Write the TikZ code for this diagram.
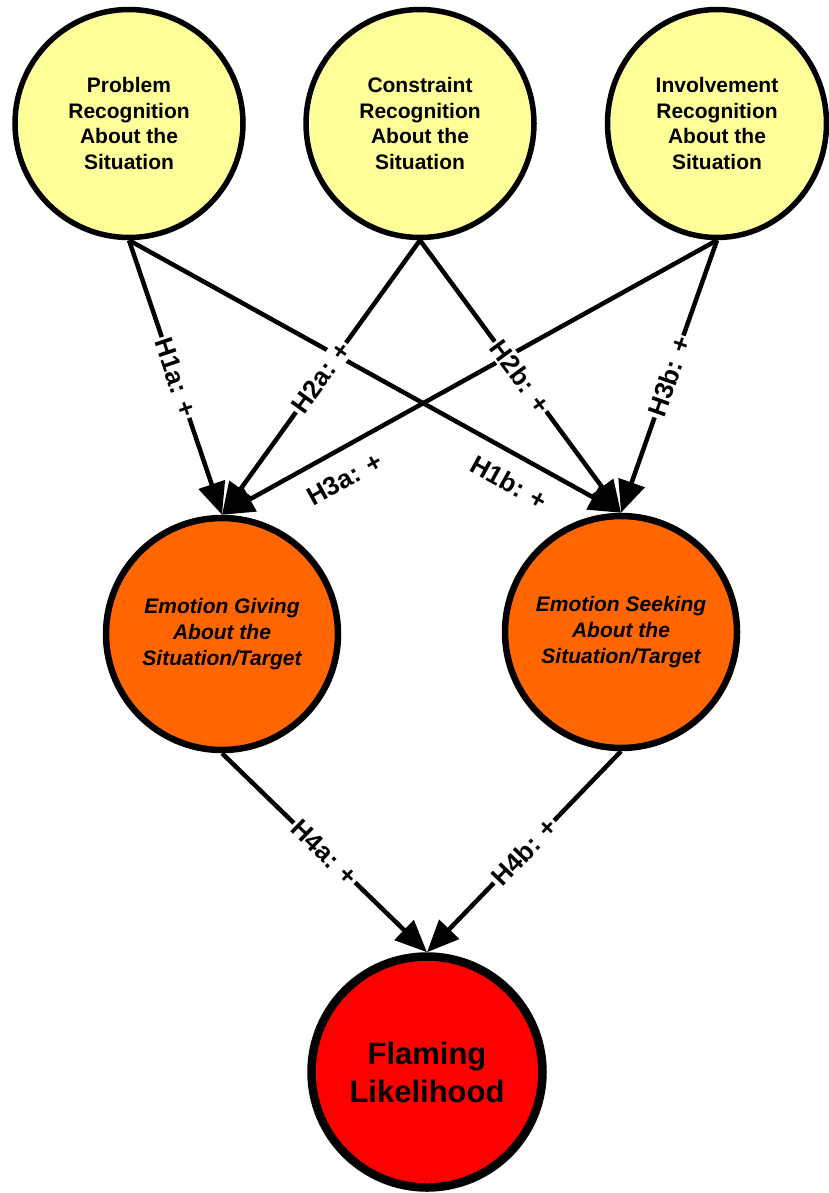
\documentclass[tikz,border=0pt]{standalone}
\usepackage{fontspec}
\setmainfont{Liberation Sans}
\usepackage{xcolor}
\usetikzlibrary{arrows.meta,shapes.geometric}

\definecolor{recogyellow}{HTML}{FFFF99}
\definecolor{emoorange}{HTML}{FF6600}
\definecolor{flamered}{HTML}{FF0000}

\begin{document}
\begin{tikzpicture}[x=1pt,y=-1pt,
    recog/.style={ellipse, draw=black, line width=5.5pt, fill=recogyellow, minimum width=228pt, minimum height=228pt, inner sep=0pt, align=center, font=\bfseries\fontsize{21}{25.7}\selectfont},
    emo/.style={circle, draw=black, line width=6.5pt, fill=emoorange, minimum size=232pt, inner sep=0pt, align=center, font=\bfseries\itshape\fontsize{21}{26}\selectfont},
    flame/.style={circle, draw=black, line width=8.5pt, fill=flamered, minimum size=231pt, inner sep=0pt, align=center, font=\bfseries\fontsize{31}{38}\selectfont},
    arr/.style={line width=4.5pt, -{Triangle[length=32pt,width=27pt]}},
    hyp/.style={sloped, fill=white, inner sep=2pt, font=\bfseries\fontsize{26}{26}\selectfont},
    hypoff/.style={sloped, inner sep=2pt, font=\bfseries\fontsize{26}{26}\selectfont}]

\useasboundingbox (0,0) rectangle (829,1193);

% Draw the three recognition variables
\node[recog] (prob) at (129,123.5) {Problem\\Recognition\\About the\\Situation};
\node[recog] (cons) at (420,123.5) {Constraint\\Recognition\\About the\\Situation};
\node[recog, minimum width=219pt] (invo) at (717,123.5) {Involvement\\Recognition\\About the\\Situation};

% Draw the two emotion variables
\node[emo] (give) at (222,634) {Emotion Giving\\About the\\Situation/Target};
\node[emo] (seek) at (621,632) {Emotion Seeking\\About the\\Situation/Target};

% Draw the outcome
\node[flame] (flam) at (427,1072) {Flaming\\Likelihood};

% Long crossing arrows first, so the other labels sit on top
\draw[arr] (prob.south) -- node[hypoff, pos=0.8, below=14pt] {H1b: +} (seek.north);
\draw[arr] (invo.south) -- node[hypoff, pos=0.78, below=15pt] {H3a: +} (give.north);

% Remaining arrows into the emotion variables
\draw[arr] (prob.south) -- node[hyp] {H1a: +} (give.north);
\draw[arr] (cons.south) -- node[hyp] {H2a: +} (give.north);
\draw[arr] (cons.south) -- node[hyp] {H2b: +} (seek.north);
\draw[arr] (invo.south) -- node[hyp] {H3b: +} (seek.north);

% Arrows into flaming likelihood
\draw[arr] (give.south) -- node[hyp] {H4a: +} (flam.north);
\draw[arr] (seek.south) -- node[hyp] {H4b: +} (flam.north);

\end{tikzpicture}
\end{document}
